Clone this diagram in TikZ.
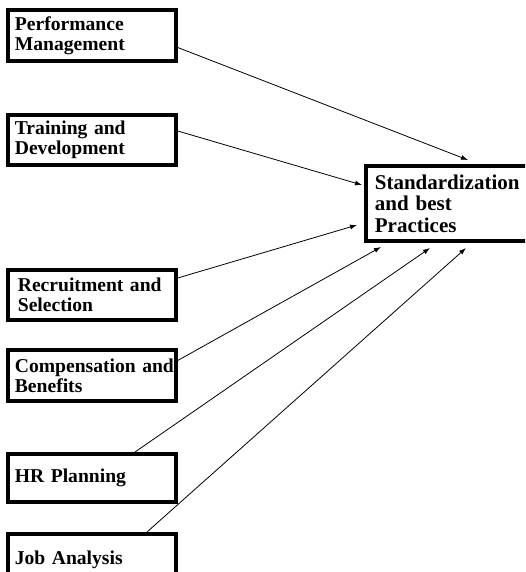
\documentclass[tikz,border=0pt]{standalone}
\usepackage{fontspec}
\setmainfont{Liberation Serif}
\usepackage{tikz}
\usetikzlibrary{
  arrows.meta,
  positioning
}

\begin{document}
\begin{tikzpicture}[x=1pt, y=-1pt,
  hrbox/.style={draw=black, line width=3.75pt, align=left, text width=154pt,
    inner xsep=7pt, inner ysep=0pt, minimum height=#1,
    font=\fontsize{19.6}{20}\selectfont\bfseries},
  hrbox/.default=50.25pt,
  link/.style={-{Latex[length=7pt,width=5pt]}, line width=0.8pt, black}]
  \useasboundingbox (0,0) rectangle (525,572);
  \clip (0,0) rectangle (525,572);

  % practice areas
  \node[hrbox=51.25pt, anchor=north west] (pm) at (6,8) {Performance\\Management};
  \node[hrbox, below right=50pt and 0pt of pm.south west] (td) {Training and\\Development};
  \node[hrbox, below right=101pt and 0pt of td.south west] (rs) {\hspace*{3pt}Recruitment and\\\hspace*{3pt}Selection};
  \node[hrbox=51.25pt, below right=26pt and 0pt of rs.south west] (cb) {Compensation~and\\Benefits};
  \node[hrbox=48.25pt, below right=49pt and 0pt of cb.south west] (hp) {HR Planning};
  \node[hrbox=51.25pt, below right=28pt and 0pt of hp.south west] (ja) {Job Analysis};

  % outcome
  \node[draw=black, line width=3.75pt, align=left, text width=160pt, inner xsep=9pt,
    inner ysep=0pt, minimum height=75.25pt, anchor=north west,
    font=\fontsize{21}{21.5}\selectfont\bfseries] (std) at (364,164)
    {Standardization\\and best\\Practices};

  \draw[link] ([yshift=-12pt]pm.east) -- ([xshift=104pt,yshift=4pt]std.north west);
  \draw[link] ([yshift=9pt]td.east) -- ([xshift=-2pt,yshift=-21pt]std.north west);
  \draw[link] ([yshift=17pt]rs.east) -- ([xshift=-7pt,yshift=-61pt]std.north west);
  \draw[link] ([yshift=15pt]cb.east) -- ([xshift=17pt,yshift=-4pt]std.south west);
  \draw[link] ([xshift=129pt]hp.north west) -- ([xshift=66pt,yshift=-5pt]std.south west);
  \draw[link] ([xshift=141pt]ja.north west) -- ([xshift=102pt,yshift=-5pt]std.south west);
\end{tikzpicture}
\end{document}
